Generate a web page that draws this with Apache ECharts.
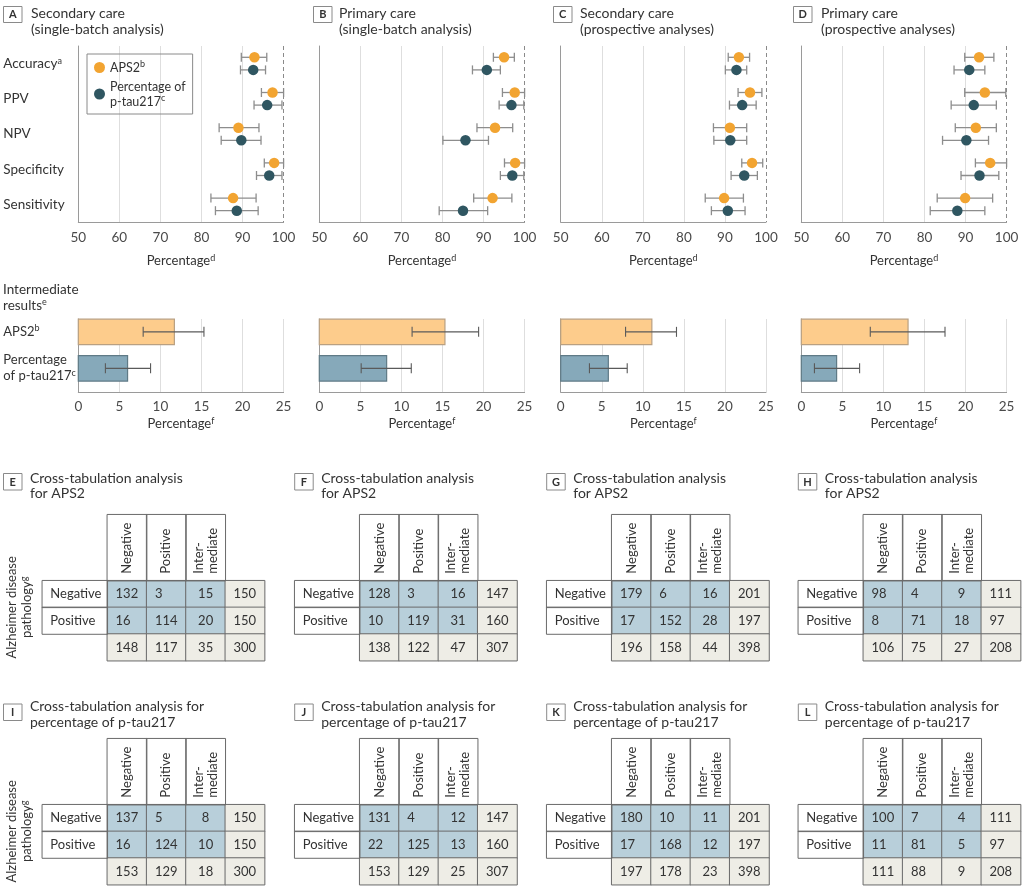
<!DOCTYPE html>
<html><head><meta charset="utf-8">
<script src="https://cdn.jsdelivr.net/npm/echarts@6/dist/echarts.min.js"></script>
<style>html,body{margin:0;padding:0;background:#fff}#c{width:1024px;height:887px}</style>
</head><body><div id="c"></div>
<script>
// ---------------- DATA ----------------
const metrics = ['Accuracy', 'PPV', 'NPV', 'Specificity', 'Sensitivity'];
const metricSup = ['a', '', '', '', ''];
const panelLetters = ['A', 'B', 'C', 'D'];
const panelTitles = [
  ['Secondary care', '(single-batch analysis)'],
  ['Primary care', '(single-batch analysis)'],
  ['Secondary care', '(prospective analyses)'],
  ['Primary care', '(prospective analyses)']
];
// [estimate, CI low, CI high] per metric
const apsSecSingle  = [[92.9,89.7,95.9],[97.3,94.6,100],[89.0,84.3,94.0],[97.7,95.3,100],[87.7,82.3,93.3]];
const ptauSecSingle = [[92.6,89.5,95.6],[96.0,92.8,99.6],[89.7,84.8,94.5],[96.5,93.4,99.6],[88.6,83.4,93.8]];
const apsPriSingle  = [[95.0,92.4,97.5],[97.6,94.6,100],[92.8,88.4,97.1],[97.7,95.1,100],[92.2,87.6,96.9]];
const ptauPriSingle = [[90.8,87.3,94.1],[96.8,93.8,99.8],[85.6,80.1,91.2],[97.0,94.1,99.8],[85.0,79.2,91.0]];
const apsSecProsp   = [[93.4,90.8,96.0],[96.1,93.2,99.0],[91.2,87.2,95.3],[96.6,94.1,99.2],[89.8,85.2,94.5]];
const ptauSecProsp  = [[92.8,90.1,95.3],[94.2,91.1,97.6],[91.3,87.3,95.3],[94.7,91.5,97.9],[90.7,86.7,94.9]];
const apsPriProsp   = [[93.3,89.8,96.9],[94.7,89.8,99.8],[92.5,87.5,97.5],[96.0,92.4,100],[89.9,83.1,96.6]];
const ptauPriProsp  = [[90.9,87.2,94.7],[92.0,86.5,97.5],[90.2,84.4,95.6],[93.4,88.9,98.1],[88.0,81.4,94.7]];
const apsPanels  = [apsSecSingle, apsPriSingle, apsSecProsp, apsPriProsp];
const ptauPanels = [ptauSecSingle, ptauPriSingle, ptauSecProsp, ptauPriProsp];
const forestTicks = [50, 100, 10];

// intermediate results [value, CI low, CI high]
const apsIntermediate  = [[11.7,7.9,15.3],[15.3,11.3,19.4],[11.1,7.9,14.1],[13.0,8.4,17.5]];
const ptauIntermediate = [[6.0,3.3,8.8],[8.2,5.1,11.2],[5.8,3.5,8.1],[4.3,1.6,7.1]];
const barTicks = [0, 25, 5];

// cross-tabulations: rows Negative, Positive, total; cols Negative, Positive, Intermediate, total
const tableLetters = ['E', 'F', 'G', 'H', 'I', 'J', 'K', 'L'];
const tableTitleAPS = ['Cross-tabulation analysis', 'for APS2'];
const tableTitlePtau = ['Cross-tabulation analysis for', 'percentage of p-tau217'];
const colCats = ['Negative', 'Positive', 'Inter-\nmediate'];
const rowCats = ['Negative', 'Positive'];
const tabE = [[132,3,15,150],[16,114,20,150],[148,117,35,300]];
const tabF = [[128,3,16,147],[10,119,31,160],[138,122,47,307]];
const tabG = [[179,6,16,201],[17,152,28,197],[196,158,44,398]];
const tabH = [[98,4,9,111],[8,71,18,97],[106,75,27,208]];
const tabI = [[137,5,8,150],[16,124,10,150],[153,129,18,300]];
const tabJ = [[131,4,12,147],[22,125,13,160],[153,129,25,307]];
const tabK = [[180,10,11,201],[17,168,12,197],[197,178,23,398]];
const tabL = [[100,7,4,111],[11,81,5,97],[111,88,9,208]];
const tables = [tabE, tabF, tabG, tabH, tabI, tabJ, tabK, tabL];

// ---------------- STYLE / LAYOUT ----------------
const FONT = 'Lato, Roboto, "Noto Sans", sans-serif';
const ORANGE = '#f2a431', TEAL = '#2f5661';
const BAR_ORANGE = '#fdcc8c', BAR_ORANGE_B = '#b9a082', BAR_BLUE = '#86a9ba', BAR_BLUE_B = '#5f7a86';
const CORE = '#b8cfda', TOTAL = '#eeede6', BORDER = '#6a6a6a';
const TXT = '#333', TICK = '#4a4a4a', AXIS = '#9a9a9a', GRIDC = '#dedede';
const panelLeft = [78.3, 319.3, 560.7, 801.3];
const panelW = 205.3;
const supRich = { sup: { fontSize: 9, verticalAlign: 'top', lineHeight: 10, fontFamily: FONT, color: TXT } };
const sup = (t, s) => s ? t + '{sup|' + s + '}' : t;

const grid = [], xAxis = [], yAxis = [], series = [], graphic = [];

// ---- forest plots ----
function whisker(offset) {
  return function (params, api) {
    const yi = api.value(0);
    const a = api.coord([api.value(1), yi]);
    const b = api.coord([api.value(2), yi]);
    const y = a[1] + offset, cap = 4.5;
    const st = { stroke: '#8d8d8d', lineWidth: 1.3 };
    return { type: 'group', children: [
      { type: 'line', shape: { x1: a[0], y1: y, x2: b[0], y2: y }, style: st },
      { type: 'line', shape: { x1: a[0], y1: y - cap, x2: a[0], y2: y + cap }, style: st },
      { type: 'line', shape: { x1: b[0], y1: y - cap, x2: b[0], y2: y + cap }, style: st }
    ]};
  };
}
for (let p = 0; p < 4; p++) {
  grid.push({ left: panelLeft[p], top: 46, width: panelW, height: 176 });
  xAxis.push({ gridIndex: p, type: 'value', min: forestTicks[0], max: forestTicks[1], interval: forestTicks[2],
    axisLine: { show: true, lineStyle: { color: AXIS } }, axisTick: { show: false },
    axisLabel: { fontSize: 13.5, color: TICK, margin: 9, fontFamily: FONT },
    splitLine: { show: true, lineStyle: { color: ['rgba(0,0,0,0)', GRIDC, GRIDC, GRIDC, GRIDC, 'rgba(0,0,0,0)'] } },
    name: sup('Percentage', 'd'), nameLocation: 'middle', nameGap: 32,
    nameTextStyle: { fontSize: 13, color: TXT, fontFamily: FONT, rich: supRich } });
  yAxis.push({ gridIndex: p, type: 'category', data: metrics, inverse: true,
    axisLine: { show: true, lineStyle: { color: AXIS } }, axisTick: { show: false },
    axisLabel: { show: p === 0, align: 'left', margin: 75, fontSize: 13.5, color: TXT, fontFamily: FONT,
      formatter: (v, i) => sup(v, metricSup[i]), rich: supRich } });
  const aps = apsPanels[p], pt = ptauPanels[p];
  series.push({ type: 'custom', xAxisIndex: p, yAxisIndex: p, renderItem: whisker(-6.3), z: 2,
    encode: { x: [1, 2], y: 0 }, data: aps.map((d, i) => [i, d[1], d[2]]) });
  series.push({ type: 'custom', xAxisIndex: p, yAxisIndex: p, renderItem: whisker(6.3), z: 2,
    encode: { x: [1, 2], y: 0 }, data: pt.map((d, i) => [i, d[1], d[2]]) });
  series.push({ type: 'scatter', name: 'APS2', xAxisIndex: p, yAxisIndex: p, z: 3,
    symbolSize: 10.5, symbolOffset: [0, -6.3], itemStyle: { color: ORANGE, opacity: 1 },
    data: aps.map((d, i) => [d[0], i]),
    markLine: { silent: true, symbol: 'none', label: { show: false },
      lineStyle: { type: [4, 3], color: '#8a8a8a', width: 1 }, data: [{ xAxis: forestTicks[1] }] } });
  series.push({ type: 'scatter', name: 'Percentage of p-tau217', xAxisIndex: p, yAxisIndex: p, z: 3,
    symbolSize: 10.5, symbolOffset: [0, 6.3], itemStyle: { color: TEAL, opacity: 1 },
    data: pt.map((d, i) => [d[0], i]) });
  // title
  const bx = [3.5, 313.5, 553.5, 793.5][p], tx = [31, 339, 580, 821][p];
  graphic.push({ type: 'rect', shape: { x: bx, y: 6.5, width: 18.5, height: 16 }, style: { fill: '#fff', stroke: '#8a8a8a', lineWidth: 1 } });
  graphic.push({ type: 'text', x: bx + 9.25, y: 14.5, style: { text: panelLetters[p], font: 'bold 11px ' + FONT, fill: TXT, align: 'center', verticalAlign: 'middle' } });
  graphic.push({ type: 'text', x: tx, y: 5, style: { text: panelTitles[p].join('\n'), fontSize: 14, fontFamily: FONT, fill: TXT, lineHeight: 16, align: 'left', verticalAlign: 'top' } });
}

// ---- intermediate bars ----
const BAR_H = 25.4, BAR_SHIFT = -5.4;
function barItem(fill, stroke) {
  return function (params, api) {
    const yi = api.value(0);
    const o = api.coord([0, yi]);
    const e = api.coord([api.value(1), yi]);
    const lo = api.coord([api.value(2), yi]);
    const hi = api.coord([api.value(3), yi]);
    const yc = o[1] + BAR_SHIFT, cap = 5;
    const st = { stroke: '#5a5a5a', lineWidth: 1.1 };
    return { type: 'group', children: [
      { type: 'rect', shape: { x: o[0], y: yc - BAR_H / 2, width: e[0] - o[0], height: BAR_H }, style: { fill: fill, stroke: stroke, lineWidth: 1.2 } },
      { type: 'line', shape: { x1: lo[0], y1: yc, x2: hi[0], y2: yc }, style: st },
      { type: 'line', shape: { x1: lo[0], y1: yc - cap, x2: lo[0], y2: yc + cap }, style: st },
      { type: 'line', shape: { x1: hi[0], y1: yc - cap, x2: hi[0], y2: yc + cap }, style: st }
    ]};
  };
}
for (let p = 0; p < 4; p++) {
  const gi = 4 + p;
  grid.push({ left: panelLeft[p], top: 319, width: panelW, height: 73 });
  xAxis.push({ gridIndex: gi, type: 'value', min: barTicks[0], max: barTicks[1], interval: barTicks[2],
    axisLine: { show: true, lineStyle: { color: AXIS } }, axisTick: { show: false },
    axisLabel: { fontSize: 13.5, color: TICK, margin: 8, fontFamily: FONT },
    splitLine: { show: true, lineStyle: { color: GRIDC } },
    name: sup('Percentage', 'f'), nameLocation: 'middle', nameGap: 25,
    nameTextStyle: { fontSize: 13, color: TXT, fontFamily: FONT, rich: supRich } });
  yAxis.push({ gridIndex: gi, type: 'category', data: ['APS2', 'Percentage of p-tau217'], inverse: true,
    axisLine: { show: true, lineStyle: { color: AXIS } }, axisTick: { show: false },
    axisLabel: { show: p === 0, align: 'left', margin: 75, fontSize: 13, color: TXT, fontFamily: FONT, lineHeight: 16,
      padding: [0, 0, 11, 0],
      formatter: (v, i) => i === 0 ? sup('APS2', 'b') : 'Percentage\n' + sup('of p-tau217', 'c'), rich: supRich } });
  series.push({ type: 'custom', xAxisIndex: gi, yAxisIndex: gi, renderItem: barItem(BAR_ORANGE, BAR_ORANGE_B),
    encode: { x: [1, 2, 3], y: 0 }, data: [[0].concat(apsIntermediate[p])] });
  series.push({ type: 'custom', xAxisIndex: gi, yAxisIndex: gi, renderItem: barItem(BAR_BLUE, BAR_BLUE_B),
    encode: { x: [1, 2, 3], y: 0 }, data: [[1].concat(ptauIntermediate[p])] });
}
graphic.push({ type: 'text', x: 3, y: 282, style: { text: 'Intermediate\n' + sup('results', 'e'), fontSize: 13.5, fontFamily: FONT, fill: TXT, lineHeight: 16, align: 'left', verticalAlign: 'top', rich: supRich } });

// ---- cross-tabulation tables ----
const tabLeft = [42.3, 294.7, 546.7, 798.3];
const ROW_LAB_W = 65, COL_W = 39.33, ROW_H = 26.67, HEAD_H = 66;
for (let t = 0; t < 8; t++) {
  const r = Math.floor(t / 4), c = t % 4;
  const L = tabLeft[c];
  const headTop = 514.7 + r * 224, dataTop = headTop + HEAD_H;
  const gMain = 8 + t * 3, gHead = gMain + 1, gRow = gMain + 2;
  grid.push({ left: L + ROW_LAB_W, top: dataTop, width: COL_W * 4, height: ROW_H * 3 });
  grid.push({ left: L + ROW_LAB_W, top: headTop, width: COL_W * 3, height: HEAD_H });
  grid.push({ left: L, top: dataTop, width: ROW_LAB_W, height: ROW_H * 2 });
  xAxis.push({ gridIndex: gMain, type: 'category', data: ['Negative', 'Positive', 'Intermediate', 'Total'], show: false });
  yAxis.push({ gridIndex: gMain, type: 'category', data: ['Negative', 'Positive', 'Total'], inverse: true, show: false });
  xAxis.push({ gridIndex: gHead, type: 'category', data: colCats, position: 'bottom',
    axisLine: { show: false }, axisTick: { show: false },
    axisLabel: { inside: true, rotate: 90, margin: 7, fontSize: 13, color: TXT, fontFamily: FONT, lineHeight: 14, interval: 0 } });
  yAxis.push({ gridIndex: gHead, type: 'category', data: ['h'], show: false });
  xAxis.push({ gridIndex: gRow, type: 'category', data: ['r'], show: false });
  yAxis.push({ gridIndex: gRow, type: 'category', data: rowCats, inverse: true,
    axisLine: { show: false }, axisTick: { show: false },
    axisLabel: { inside: true, margin: 8, fontSize: 13, color: TXT, fontFamily: FONT } });
  const tab = tables[t];
  const core = [], tot = [];
  for (let rr = 0; rr < 3; rr++) for (let cc = 0; cc < 4; cc++) {
    const item = { value: [cc, rr, tab[rr][cc]],
      label: cc === 2 ? { position: 'inside' } : { position: 'insideLeft', distance: 9 } };
    (rr < 2 && cc < 3 ? core : tot).push(item);
  }
  const lab = { show: true, fontSize: 13, color: TXT, fontFamily: FONT, formatter: (pp) => String(pp.value[2]) };
  series.push({ type: 'heatmap', xAxisIndex: gMain, yAxisIndex: gMain, data: core, label: lab,
    itemStyle: { color: CORE, borderColor: BORDER, borderWidth: 1 }, emphasis: { disabled: true } });
  series.push({ type: 'heatmap', xAxisIndex: gMain, yAxisIndex: gMain, data: tot, label: lab,
    itemStyle: { color: TOTAL, borderColor: BORDER, borderWidth: 1 }, emphasis: { disabled: true } });
  series.push({ type: 'heatmap', xAxisIndex: gHead, yAxisIndex: gHead, data: [[0, 0, 0], [1, 0, 0], [2, 0, 0]],
    itemStyle: { color: 'rgba(255,255,255,0)', borderColor: BORDER, borderWidth: 1 }, emphasis: { disabled: true } });
  series.push({ type: 'heatmap', xAxisIndex: gRow, yAxisIndex: gRow, data: [[0, 0, 0], [0, 1, 0]],
    itemStyle: { color: 'rgba(255,255,255,0)', borderColor: BORDER, borderWidth: 1 }, emphasis: { disabled: true } });
  // titles
  const bx = c === 0 ? 3.5 : L, tx = c === 0 ? 30 : L + 26.5;
  const by = r === 0 ? 473.5 : 704, ty = r === 0 ? 471.5 : 698.5;
  graphic.push({ type: 'rect', shape: { x: bx, y: by, width: 18.5, height: 16.5 }, style: { fill: '#fff', stroke: '#8a8a8a', lineWidth: 1 } });
  graphic.push({ type: 'text', x: bx + 9.25, y: by + 8.5, style: { text: tableLetters[t], font: 'bold 11px ' + FONT, fill: TXT, align: 'center', verticalAlign: 'middle' } });
  graphic.push({ type: 'text', x: tx, y: ty, style: { text: (r === 0 ? tableTitleAPS : tableTitlePtau).join('\n'), fontSize: 14, fontFamily: FONT, fill: TXT, lineHeight: r === 0 ? 14.5 : 16, align: 'left', verticalAlign: 'top' } });
  if (c === 0) {
    graphic.push({ type: 'text', x: 19.5, y: dataTop + ROW_H, rotation: Math.PI / 2,
      style: { text: 'Alzheimer disease\n' + sup('pathology', 'g'), fontSize: 13, fontFamily: FONT, fill: TXT, lineHeight: 15, align: 'center', verticalAlign: 'middle', rich: supRich } });
  }
}

const chart = echarts.init(document.getElementById('c'), null, { renderer: 'canvas' });
chart.setOption({
  animation: false,
  backgroundColor: '#fff',
  textStyle: { fontFamily: FONT },
  legend: { data: ['APS2', 'Percentage of p-tau217'], orient: 'vertical', left: 87, top: 54,
    borderColor: '#8a8a8a', borderWidth: 1, borderRadius: 0, padding: [6, 7, 5, 7], itemGap: 4,
    icon: 'circle', itemWidth: 11, itemHeight: 11, selectedMode: false,
    textStyle: { fontSize: 12.5, color: TXT, fontFamily: FONT, lineHeight: 15, rich: supRich },
    formatter: n => n === 'APS2' ? sup('APS2', 'b') : 'Percentage of\n' + sup('p-tau217', 'c') },
  grid, xAxis, yAxis, series, graphic
});
</script></body></html>
